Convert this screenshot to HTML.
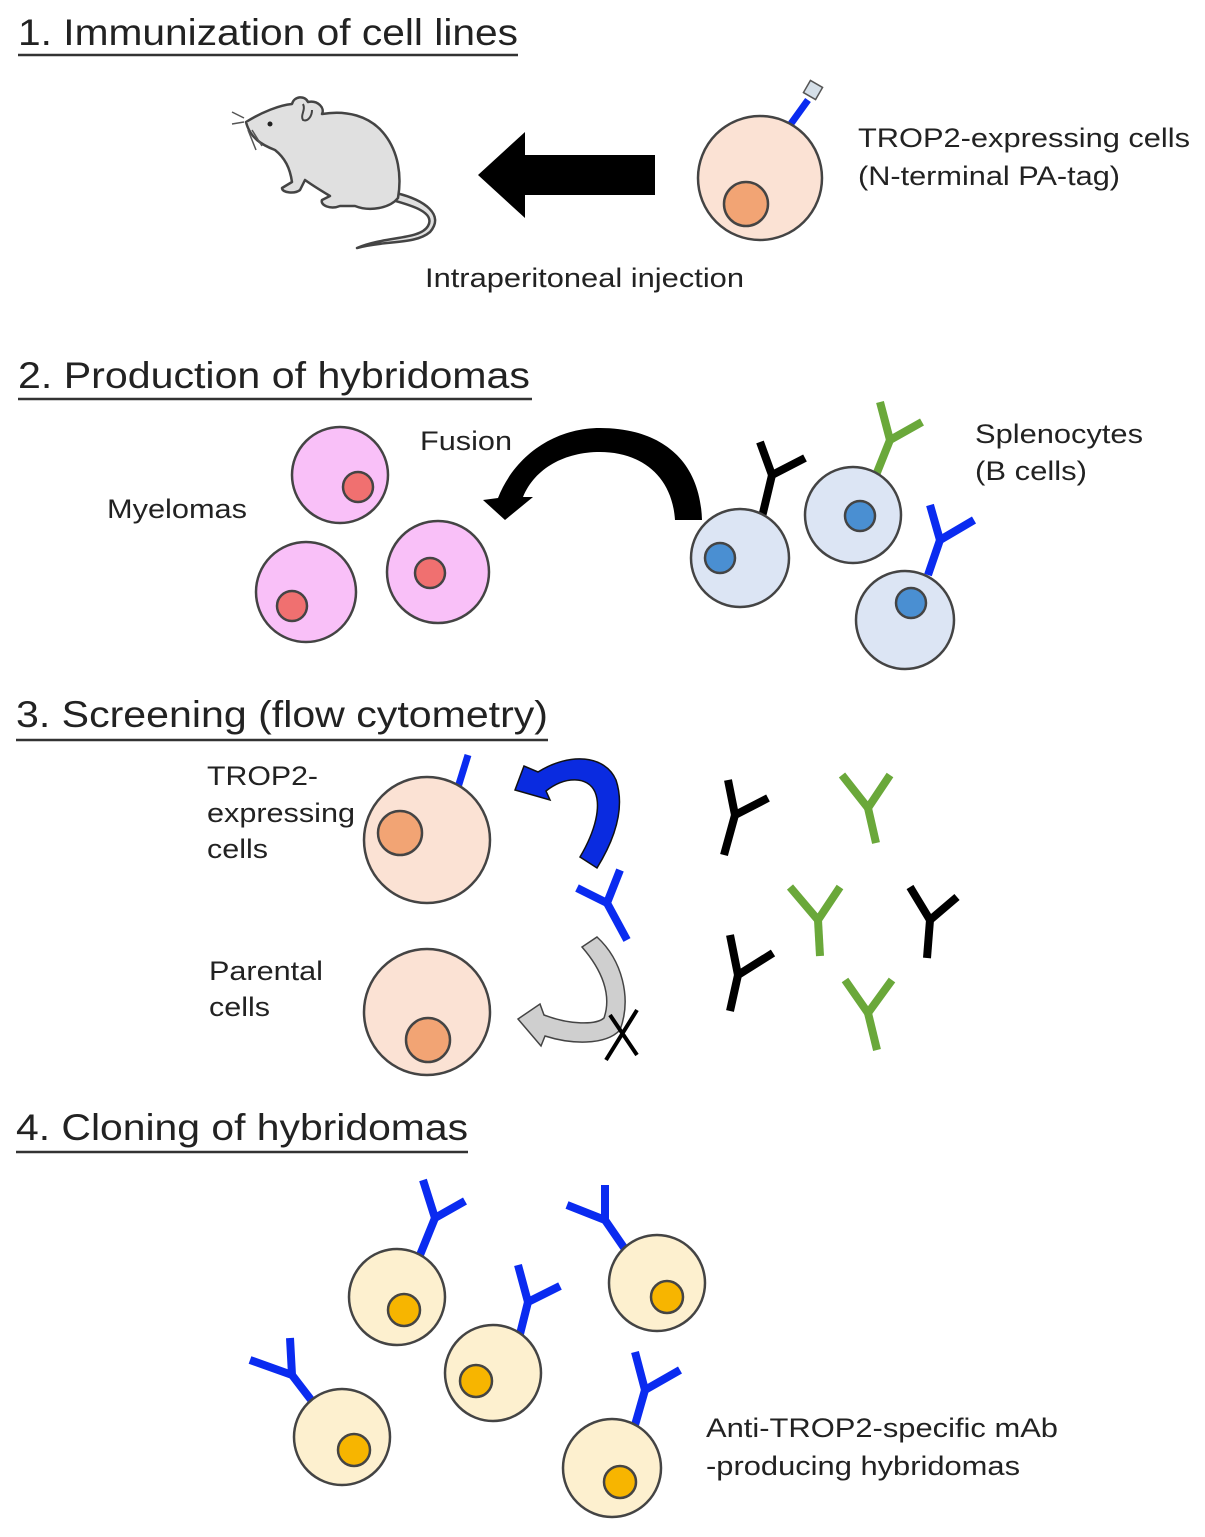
<!DOCTYPE html>
<html><head><meta charset="utf-8"><style>
html,body{margin:0;padding:0;background:#fff;}
svg{display:block;}
text{font-family:"Liberation Sans",Arial,sans-serif;fill:#222;}
.t{font-size:37px;}
.l{font-size:27px;}
.c{stroke:#444;stroke-width:2.5;}
.ab{fill:none;stroke-width:8;stroke-linecap:butt;stroke-linejoin:miter;}
</style></head><body>
<svg width="1205" height="1537" viewBox="0 0 1205 1537" xmlns="http://www.w3.org/2000/svg">
<!-- Section 1 -->
<text class="t" x="18" y="45" textLength="500" lengthAdjust="spacingAndGlyphs">1. Immunization of cell lines</text>
<line x1="18" y1="55" x2="518" y2="55" stroke="#333" stroke-width="2.5"/>
<g stroke="#444" stroke-width="2.5" fill="#e0e0e0" stroke-linejoin="round">
<path d="M396,193 C425,200 445,215 430,232 C415,245 385,240 357,248 C385,236 420,240 428,226 C436,212 410,205 392,200 Z"/>
<path d="M246,122 C262,112 280,105 292,104 C294,96 305,95 308,102 C318,100 325,108 322,114 C345,110 370,115 385,135 C398,152 402,175 398,198 C390,208 370,212 355,206 L340,206 C330,210 320,205 322,200 L330,196 C320,190 312,185 305,180 L300,190 C295,194 282,193 282,188 L292,182 C290,168 285,158 275,150 C262,145 250,138 246,122 Z"/>
</g>
<circle cx="270" cy="124" r="2.5" fill="#222"/>
<path d="M244,118 L232,112 M244,122 L232,124 M248,130 L256,150 M252,130 L262,146" stroke="#555" stroke-width="1.5"/>
<path d="M303,104 C306,110 300,115 303,120 C308,122 312,116 312,110" fill="none" stroke="#444" stroke-width="2"/>
<polygon points="655,155 525,155 525,132 478,175 525,218 525,195 655,195" fill="#000"/>
<line x1="790" y1="125" x2="808" y2="100" stroke="#0a2bf0" stroke-width="7"/>
<rect x="806" y="83" width="14" height="14" fill="#d5dfe8" stroke="#555" stroke-width="1.5" transform="rotate(30 813 90)"/>
<circle cx="760" cy="178" r="62" fill="#fbe2d4" class="c"/>
<circle cx="746" cy="204" r="22" fill="#f2a474" class="c"/>
<text class="l" x="858" y="147" textLength="332" lengthAdjust="spacingAndGlyphs">TROP2-expressing cells</text>
<text class="l" x="858" y="185" textLength="262" lengthAdjust="spacingAndGlyphs">(N-terminal PA-tag)</text>
<text class="l" x="425" y="287" textLength="319" lengthAdjust="spacingAndGlyphs">Intraperitoneal injection</text>

<!-- Section 2 -->
<text class="t" x="18" y="388" textLength="512" lengthAdjust="spacingAndGlyphs">2. Production of hybridomas</text>
<line x1="18" y1="399" x2="532" y2="399" stroke="#333" stroke-width="2.5"/>
<text class="l" x="107" y="518" textLength="140" lengthAdjust="spacingAndGlyphs">Myelomas</text>
<text class="l" x="420" y="450" textLength="92" lengthAdjust="spacingAndGlyphs">Fusion</text>
<circle cx="340" cy="475" r="48" fill="#f9c0f8" class="c"/>
<circle cx="358" cy="487" r="15" fill="#f07070" class="c"/>
<circle cx="306" cy="592" r="50" fill="#f9c0f8" class="c"/>
<circle cx="292" cy="606" r="15" fill="#f07070" class="c"/>
<circle cx="438" cy="572" r="51" fill="#f9c0f8" class="c"/>
<circle cx="430" cy="573" r="15" fill="#f07070" class="c"/>
<path d="M702,520 C700,455 655,428 600,428 C555,428 515,455 498,498 L483,500 L505,520 L533,497 L523,497 C535,468 565,452 600,452 C640,452 672,475 675,520 Z" fill="#000"/>
<g class="ab" stroke="#000"><polyline points="760,442 772,475 805,458"/><line x1="772" y1="475" x2="762" y2="517"/></g>
<g class="ab" stroke="#6aa83a"><polyline points="880,402 890,440 922,422"/><line x1="890" y1="440" x2="876" y2="475"/></g>
<g class="ab" stroke="#0a2bf0"><polyline points="930,505 940,540 974,520"/><line x1="940" y1="540" x2="928" y2="575"/></g>
<circle cx="740" cy="558" r="49" fill="#dce5f4" class="c"/>
<circle cx="720" cy="558" r="15" fill="#4a8fd2" class="c"/>
<circle cx="853" cy="515" r="48" fill="#dce5f4" class="c"/>
<circle cx="860" cy="516" r="15" fill="#4a8fd2" class="c"/>
<circle cx="905" cy="620" r="49" fill="#dce5f4" class="c"/>
<circle cx="911" cy="603" r="15" fill="#4a8fd2" class="c"/>
<text class="l" x="975" y="443" textLength="168" lengthAdjust="spacingAndGlyphs">Splenocytes</text>
<text class="l" x="975" y="480" textLength="112" lengthAdjust="spacingAndGlyphs">(B cells)</text>

<!-- Section 3 -->
<text class="t" x="16" y="727" textLength="532" lengthAdjust="spacingAndGlyphs">3. Screening (flow cytometry)</text>
<line x1="16" y1="740" x2="548" y2="740" stroke="#333" stroke-width="2.5"/>
<text class="l" x="207" y="785" textLength="111" lengthAdjust="spacingAndGlyphs">TROP2-</text>
<text class="l" x="207" y="822" textLength="148" lengthAdjust="spacingAndGlyphs">expressing</text>
<text class="l" x="207" y="858" textLength="61" lengthAdjust="spacingAndGlyphs">cells</text>
<text class="l" x="209" y="980" textLength="114" lengthAdjust="spacingAndGlyphs">Parental</text>
<text class="l" x="209" y="1016" textLength="61" lengthAdjust="spacingAndGlyphs">cells</text>
<line x1="455" y1="797" x2="468" y2="755" stroke="#0a2bf0" stroke-width="7"/>
<circle cx="427" cy="840" r="63" fill="#fbe2d4" class="c"/>
<circle cx="400" cy="833" r="22" fill="#f2a474" class="c"/>
<circle cx="427" cy="1012" r="63" fill="#fbe2d4" class="c"/>
<circle cx="428" cy="1040" r="22" fill="#f2a474" class="c"/>
<path d="M515,790 L524,766 L538,772 C570,752 605,755 616,780 C626,810 613,842 597,868 L580,857 C596,830 601,806 595,792 C588,776 565,776 546,791 L550,800 Z" fill="#0a2be0" stroke="#111" stroke-width="1.5"/>
<g class="ab" stroke="#0a2bf0"><polyline points="577,888 607,903 620,870"/><line x1="607" y1="903" x2="627" y2="940"/></g>
<path d="M597,937 C622,960 632,998 620,1030 C605,1046 570,1044 545,1036 L541,1046 L518,1019 L540,1004 L544,1015 C570,1025 596,1025 604,1018 C612,995 602,970 582,947 Z" fill="#cfcfcf" stroke="#444" stroke-width="1.5"/>
<path d="M606,1060 L637,1010 M610,1015 L637,1055" stroke="#000" stroke-width="4"/>
<g class="ab" stroke="#000"><polyline points="728,780 735,815 768,798"/><line x1="735" y1="815" x2="724" y2="855"/></g>
<g class="ab" stroke="#6aa83a"><polyline points="842,775 868,808 890,775"/><line x1="868" y1="808" x2="876" y2="843"/></g>
<g class="ab" stroke="#6aa83a"><polyline points="790,887 818,920 840,887"/><line x1="818" y1="920" x2="820" y2="956"/></g>
<g class="ab" stroke="#000"><polyline points="910,887 930,920 957,897"/><line x1="930" y1="920" x2="927" y2="958"/></g>
<g class="ab" stroke="#000"><polyline points="730,935 738,975 773,953"/><line x1="738" y1="975" x2="730" y2="1011"/></g>
<g class="ab" stroke="#6aa83a"><polyline points="845,980 868,1013 892,980"/><line x1="868" y1="1013" x2="877" y2="1050"/></g>

<!-- Section 4 -->
<text class="t" x="16" y="1140" textLength="452" lengthAdjust="spacingAndGlyphs">4. Cloning of hybridomas</text>
<line x1="16" y1="1152" x2="468" y2="1152" stroke="#333" stroke-width="2.5"/>
<g class="ab" stroke="#0a2bf0">
<polyline points="423,1180 435,1218 465,1201"/><line x1="435" y1="1218" x2="420" y2="1255"/>
<polyline points="605,1185 605,1220 567,1205"/><line x1="605" y1="1220" x2="627" y2="1252"/>
<polyline points="518,1265 528,1302 560,1286"/><line x1="528" y1="1302" x2="518" y2="1342"/>
<polyline points="290,1338 292,1375 250,1360"/><line x1="292" y1="1375" x2="315" y2="1405"/>
<polyline points="635,1352 645,1390 680,1370"/><line x1="645" y1="1390" x2="635" y2="1425"/>
</g>
<circle cx="397" cy="1297" r="48" fill="#fdf0cf" class="c"/>
<circle cx="404" cy="1310" r="16" fill="#f7b500" class="c"/>
<circle cx="657" cy="1283" r="48" fill="#fdf0cf" class="c"/>
<circle cx="667" cy="1297" r="16" fill="#f7b500" class="c"/>
<circle cx="493" cy="1373" r="48" fill="#fdf0cf" class="c"/>
<circle cx="476" cy="1381" r="16" fill="#f7b500" class="c"/>
<circle cx="342" cy="1437" r="48" fill="#fdf0cf" class="c"/>
<circle cx="354" cy="1450" r="16" fill="#f7b500" class="c"/>
<circle cx="612" cy="1468" r="49" fill="#fdf0cf" class="c"/>
<circle cx="620" cy="1482" r="16" fill="#f7b500" class="c"/>
<text class="l" x="706" y="1437" textLength="352" lengthAdjust="spacingAndGlyphs">Anti-TROP2-specific mAb</text>
<text class="l" x="706" y="1475" textLength="314" lengthAdjust="spacingAndGlyphs">-producing hybridomas</text>
</svg>
</body></html>
